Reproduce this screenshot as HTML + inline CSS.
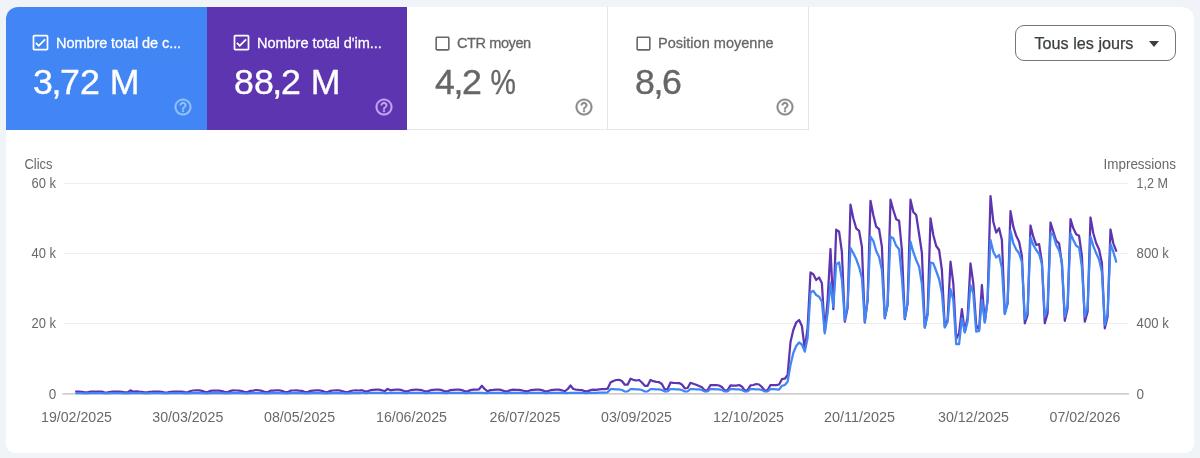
<!DOCTYPE html>
<html lang="fr"><head><meta charset="utf-8"><title>Performances</title>
<style>
html,body{margin:0;padding:0}
body{width:1200px;height:458px;overflow:hidden;background:#f0f3f8;font-family:"Liberation Sans",Arial,sans-serif;position:relative}
.card{position:absolute;left:6px;top:7px;width:1188px;height:446px;background:#fff;border-radius:12px 12px 9px 9px;overflow:hidden}
.tile{position:absolute;top:0;height:123px;box-sizing:border-box}
.t1{left:0;width:201px;background:#4285f4;color:#fff}
.t2{left:201px;width:200px;background:#5e35b1;color:#fff}
.t3{left:401px;width:201px;background:#fff;color:#666;border-right:1px solid #e4e4e4;border-bottom:1px solid #e8e8e8}
.t4{left:602px;width:201px;background:#fff;color:#666;border-right:1px solid #e4e4e4;border-bottom:1px solid #e8e8e8}
.cb{position:absolute;left:24.300px;top:25.200px}
.lbl{position:absolute;left:49.500px;top:26.600px;font-size:15.4px;line-height:18px;white-space:nowrap;transform:scaleX(.945);transform-origin:0 0;-webkit-text-stroke:.3px currentColor}
.val{position:absolute;left:27px;top:55.400px;font-size:35.4px;line-height:40px;white-space:nowrap;transform:scaleX(1.01);transform-origin:0 0;-webkit-text-stroke:.35px currentColor}
.cm{margin:0 -1.4px}
.help{position:absolute;left:167px;top:89.500px}
.btn{position:absolute;left:1015px;top:25px;width:159px;height:34px;border:1px solid #747775;border-radius:9px;background:#fff}
.btn span{position:absolute;left:18.500px;top:7.500px;font-size:16.2px;line-height:19px;color:#3c4043;white-space:nowrap;-webkit-text-stroke:.25px #3c4043}
.btn i{position:absolute;left:133px;top:14.500px;width:0;height:0;border-left:5.5px solid transparent;border-right:5.5px solid transparent;border-top:6px solid #3c4043}
span.pc{display:inline-block;transform:scaleX(.8);transform-origin:0 50%;margin-left:-1px}
svg.chart{position:absolute;left:0;top:0}
svg.chart text{font-family:"Liberation Sans",Arial,sans-serif;font-size:13.9px;fill:#696969}
</style></head><body>
<div class="card">
 <div class="tile t1"><svg class="cb" viewBox="0 0 24 24" width="21" height="21"><path fill="#fff" d="M19 3H5c-1.100 0-2 .9-2 2v14c0 1.100.9 2 2 2h14c1.100 0 2-.9 2-2V5c0-1.100-.9-2-2-2zm0 16H5V5h14v14zM17.990 9l-1.410-1.420-6.590 6.590-2.580-2.570-1.420 1.410 4 3.990z"/></svg><div class="lbl" style="letter-spacing:-0.1px">Nombre total de c...</div><div class="val">3<span class="cm">,</span>72 M</div><svg class="help" viewBox="0 0 24 24" width="20" height="20"><path fill="#94c3fc" stroke="#94c3fc" stroke-width=".45" d="M11 18h2v-2h-2v2zm1-16C6.48 2 2 6.48 2 12s4.48 10 10 10 10-4.48 10-10S17.52 2 12 2zm0 18c-4.41 0-8-3.590-8-8s3.590-8 8-8 8 3.590 8 8-3.590 8-8 8zm0-14c-2.210 0-4 1.790-4 4h2c0-1.100.9-2 2-2s2 .9 2 2c0 2-3 1.750-3 5h2c0-2.250 3-2.500 3-5 0-2.210-1.790-4-4-4z"/></svg></div>
 <div class="tile t2"><svg class="cb" viewBox="0 0 24 24" width="21" height="21"><path fill="#fff" d="M19 3H5c-1.100 0-2 .9-2 2v14c0 1.100.9 2 2 2h14c1.100 0 2-.9 2-2V5c0-1.100-.9-2-2-2zm0 16H5V5h14v14zM17.990 9l-1.410-1.420-6.590 6.590-2.580-2.570-1.420 1.410 4 3.990z"/></svg><div class="lbl" style="letter-spacing:-0.05px">Nombre total d'im...</div><div class="val">88<span class="cm">,</span>2 M</div><svg class="help" viewBox="0 0 24 24" width="20" height="20"><path fill="#c4a8f3" stroke="#c4a8f3" stroke-width=".45" d="M11 18h2v-2h-2v2zm1-16C6.48 2 2 6.48 2 12s4.48 10 10 10 10-4.48 10-10S17.52 2 12 2zm0 18c-4.41 0-8-3.590-8-8s3.590-8 8-8 8 3.590 8 8-3.590 8-8 8zm0-14c-2.210 0-4 1.790-4 4h2c0-1.100.9-2 2-2s2 .9 2 2c0 2-3 1.750-3 5h2c0-2.250 3-2.500 3-5 0-2.210-1.790-4-4-4z"/></svg></div>
 <div class="tile t3"><svg class="cb" viewBox="0 0 24 24" width="19" height="19" style="left:25.600px;top:26.900px"><path fill="#666" d="M19 5v14H5V5h14m0-2H5c-1.100 0-2 .9-2 2v14c0 1.100.9 2 2 2h14c1.100 0 2-.9 2-2V5c0-1.100-.9-2-2-2z"/></svg><div class="lbl" style="letter-spacing:-0.45px;left:50px">CTR moyen</div><div class="val" style="left:28px">4<span class="cm">,</span>2 <span class="pc">%</span></div><svg class="help" viewBox="0 0 24 24" width="20" height="20"><path fill="#8a8a8a" stroke="#8a8a8a" stroke-width=".45" d="M11 18h2v-2h-2v2zm1-16C6.48 2 2 6.48 2 12s4.48 10 10 10 10-4.48 10-10S17.52 2 12 2zm0 18c-4.41 0-8-3.590-8-8s3.590-8 8-8 8 3.590 8 8-3.590 8-8 8zm0-14c-2.210 0-4 1.790-4 4h2c0-1.100.9-2 2-2s2 .9 2 2c0 2-3 1.750-3 5h2c0-2.250 3-2.500 3-5 0-2.210-1.790-4-4-4z"/></svg></div>
 <div class="tile t4"><svg class="cb" viewBox="0 0 24 24" width="19" height="19" style="left:25.600px;top:26.900px"><path fill="#666" d="M19 5v14H5V5h14m0-2H5c-1.100 0-2 .9-2 2v14c0 1.100.9 2 2 2h14c1.100 0 2-.9 2-2V5c0-1.100-.9-2-2-2z"/></svg><div class="lbl">Position moyenne</div><div class="val">8<span class="cm">,</span>6</div><svg class="help" viewBox="0 0 24 24" width="20" height="20"><path fill="#8a8a8a" stroke="#8a8a8a" stroke-width=".45" d="M11 18h2v-2h-2v2zm1-16C6.48 2 2 6.48 2 12s4.48 10 10 10 10-4.48 10-10S17.52 2 12 2zm0 18c-4.41 0-8-3.590-8-8s3.590-8 8-8 8 3.590 8 8-3.590 8-8 8zm0-14c-2.210 0-4 1.790-4 4h2c0-1.100.9-2 2-2s2 .9 2 2c0 2-3 1.750-3 5h2c0-2.250 3-2.500 3-5 0-2.210-1.790-4-4-4z"/></svg></div>
</div>
<div class="btn"><span>Tous les jours</span><i></i></div>
<svg class="chart" width="1200" height="458" viewBox="0 0 1200 458">
 <g stroke="#efefef" stroke-width="1">
  <line x1="64" y1="183.5" x2="1128" y2="183.5"/><line x1="64" y1="253.5" x2="1128" y2="253.5"/><line x1="64" y1="323.5" x2="1128" y2="323.5"/>
 </g>
 <line x1="62.500" y1="393.800" x2="1129" y2="393.800" stroke="#bdbdbd" stroke-width="1.300"/>
 <text x="24.5" y="169.400" textLength="28" lengthAdjust="spacingAndGlyphs">Clics</text>
 <text x="1176" y="169.400" text-anchor="end" textLength="72.5" lengthAdjust="spacingAndGlyphs">Impressions</text>
 <text x="56" y="188.300" text-anchor="end" textLength="24.5" lengthAdjust="spacingAndGlyphs">60 k</text><text x="56" y="258.300" text-anchor="end" textLength="24.5" lengthAdjust="spacingAndGlyphs">40 k</text><text x="56" y="328.300" text-anchor="end" textLength="24.5" lengthAdjust="spacingAndGlyphs">20 k</text><text x="56.200" y="399" text-anchor="end" textLength="7.500" lengthAdjust="spacingAndGlyphs">0</text>
 <text x="1136.600" y="188.300" textLength="31.300" lengthAdjust="spacingAndGlyphs">1,2 M</text><text x="1136.600" y="258.300" textLength="32.100" lengthAdjust="spacingAndGlyphs">800 k</text><text x="1136.600" y="328.300" textLength="32.100" lengthAdjust="spacingAndGlyphs">400 k</text><text x="1136.600" y="399" textLength="7.500" lengthAdjust="spacingAndGlyphs">0</text>
 <text x="76.5" y="422.200" text-anchor="middle" textLength="71" lengthAdjust="spacingAndGlyphs">19/02/2025</text><text x="187.8" y="422.200" text-anchor="middle" textLength="71" lengthAdjust="spacingAndGlyphs">30/03/2025</text><text x="299.6" y="422.200" text-anchor="middle" textLength="71" lengthAdjust="spacingAndGlyphs">08/05/2025</text><text x="411.5" y="422.200" text-anchor="middle" textLength="71" lengthAdjust="spacingAndGlyphs">16/06/2025</text><text x="525" y="422.200" text-anchor="middle" textLength="71" lengthAdjust="spacingAndGlyphs">26/07/2025</text><text x="636.5" y="422.200" text-anchor="middle" textLength="71" lengthAdjust="spacingAndGlyphs">03/09/2025</text><text x="748.5" y="422.200" text-anchor="middle" textLength="71" lengthAdjust="spacingAndGlyphs">12/10/2025</text><text x="859.5" y="422.200" text-anchor="middle" textLength="71" lengthAdjust="spacingAndGlyphs">20/11/2025</text><text x="973.5" y="422.200" text-anchor="middle" textLength="71" lengthAdjust="spacingAndGlyphs">30/12/2025</text><text x="1085" y="422.200" text-anchor="middle" textLength="71" lengthAdjust="spacingAndGlyphs">07/02/2026</text>
 <polyline fill="none" stroke="#5e35b1" stroke-width="2.25" stroke-linejoin="round" stroke-linecap="round" points="76.2,391.5 79.1,391.6 81.9,391.8 84.8,392.4 87.6,392.4 90.5,391.6 93.3,391.5 96.2,391.7 99.1,391.5 101.9,391.7 104.8,392.5 107.6,392.4 110.5,391.9 113.3,391.6 116.2,391.6 119.1,391.5 121.9,391.8 124.8,392.4 127.6,392.4 130.5,390.3 133.3,391.7 136.2,391.4 139.1,391.7 141.9,391.8 144.8,392.3 147.6,392.2 150.5,391.9 153.3,391.6 156.2,391.6 159.1,391.7 161.9,391.9 164.8,392.5 167.6,392.3 170.5,391.9 173.3,391.6 176.2,391.7 179.1,391.7 181.9,391.7 184.8,392.2 187.6,392.3 190.5,391.0 193.3,390.5 196.2,390.4 199.1,390.4 201.9,390.9 204.8,391.9 207.6,392.0 210.5,390.9 213.3,390.5 216.2,390.5 219.1,390.6 221.9,391.0 224.8,392.1 227.6,392.2 230.5,390.9 233.3,390.4 236.2,390.5 239.1,390.6 241.9,391.0 244.8,392.0 247.6,392.1 250.5,390.8 253.3,390.6 256.2,390.0 259.1,390.4 261.9,390.8 264.8,392.1 267.6,392.2 270.5,390.7 273.3,390.6 276.2,390.4 279.1,390.4 281.9,390.8 284.8,392.0 287.6,392.2 290.5,390.7 293.3,390.5 296.2,390.3 299.1,390.6 301.9,390.8 304.8,392.1 307.6,392.2 310.5,390.9 313.3,390.6 316.2,390.3 319.1,390.4 321.9,390.9 324.8,391.8 327.6,392.0 330.5,390.8 333.3,390.5 336.2,390.3 339.1,390.4 341.9,391.0 344.8,391.9 347.6,392.2 350.5,391.0 353.3,390.5 356.2,390.4 359.1,390.5 361.9,390.2 364.8,391.3 367.6,391.4 370.5,390.2 373.3,389.9 376.2,389.7 379.1,389.7 381.9,390.3 384.8,391.2 387.6,388.9 390.5,390.3 393.3,389.8 396.2,389.7 399.1,389.6 401.9,390.2 404.8,391.3 407.6,391.3 410.5,390.2 413.3,389.8 416.2,389.5 419.1,389.8 421.9,390.2 424.8,391.3 427.6,391.4 430.5,390.2 433.3,389.8 436.2,389.5 439.1,389.6 441.9,390.2 444.8,391.4 447.6,391.3 450.5,390.1 453.3,389.8 456.2,389.6 459.1,389.7 461.9,390.1 464.8,391.3 467.6,391.4 470.5,390.1 473.3,389.7 476.2,389.7 479.1,389.3 481.9,385.8 484.8,389.2 487.6,391.3 490.5,390.1 493.3,389.9 496.2,389.6 499.1,389.7 501.9,390.2 504.8,391.4 507.6,391.3 510.5,390.1 513.3,389.7 516.2,389.8 519.1,389.8 521.9,390.3 524.8,391.2 527.6,391.3 530.5,390.2 533.3,389.9 536.2,389.7 539.1,389.7 541.9,390.1 544.8,391.3 547.6,391.3 550.5,390.2 553.3,389.9 556.2,389.6 559.1,389.7 561.9,390.3 564.8,391.3 567.6,389.2 570.5,385.5 573.3,389.0 576.2,389.6 579.1,389.9 581.9,390.1 584.8,391.2 587.6,391.4 590.5,390.1 593.3,389.7 596.2,389.8 599.1,389.3 601.9,389.2 604.8,389.2 607.6,388.7 610.5,382.5 613.3,381.0 616.2,380.0 619.1,379.8 621.9,381.0 624.8,384.7 627.6,384.7 630.5,378.7 633.3,379.8 636.2,380.5 639.1,380.0 641.9,382.5 644.8,385.8 647.6,385.8 650.5,380.0 653.3,381.2 656.2,381.8 659.1,382.2 661.9,384.0 664.8,389.5 667.6,389.2 670.5,382.5 673.3,382.8 676.2,383.0 679.1,383.0 681.9,384.5 684.8,388.3 687.6,388.0 690.5,382.8 693.3,383.8 696.2,384.8 699.1,386.0 701.9,387.3 704.8,390.5 707.6,390.0 710.5,385.0 713.3,385.0 716.2,385.0 719.1,385.5 721.9,387.0 724.8,390.6 727.6,390.0 730.5,385.3 733.3,385.6 736.2,385.7 739.1,385.0 741.9,386.5 744.8,390.6 747.6,390.0 750.5,385.3 753.3,385.0 756.2,384.0 759.1,384.5 761.9,387.0 764.8,390.8 767.6,390.0 770.5,385.0 773.3,385.2 776.2,385.2 779.1,384.5 781.9,379.2 784.8,378.7 787.6,375.0 790.5,342.0 793.3,330.0 796.2,322.5 799.1,320.0 801.9,326.0 804.8,349.0 807.6,328.0 810.5,272.5 813.3,274.2 816.2,280.0 819.1,277.5 821.9,283.3 824.8,332.0 827.6,300.0 830.5,249.0 833.3,309.2 836.2,229.7 839.1,231.7 841.9,252.0 844.8,321.7 847.6,308.0 850.5,204.7 853.3,218.3 856.2,228.3 859.1,230.8 861.9,246.7 864.8,322.5 867.6,300.0 870.5,200.8 873.3,215.0 876.2,226.7 879.1,229.2 881.9,246.7 884.8,318.3 887.6,305.0 890.5,199.7 893.3,210.0 896.2,219.2 899.1,220.8 901.9,250.0 904.8,319.2 907.6,303.3 910.5,199.7 913.3,212.0 916.2,215.0 919.1,234.0 921.9,253.0 924.8,327.5 927.6,313.0 930.5,218.3 933.3,235.0 936.2,246.0 939.1,250.0 941.9,270.0 944.8,327.0 947.6,320.0 950.5,261.7 953.3,283.3 956.2,339.0 959.1,333.0 961.9,309.2 964.8,331.7 967.6,317.0 970.5,263.3 973.3,283.3 976.2,325.0 979.1,330.0 981.9,285.0 984.8,322.0 987.6,300.0 990.5,196.2 993.3,221.7 996.2,232.5 999.1,228.3 1001.9,240.0 1004.8,313.3 1007.6,303.3 1010.5,211.2 1013.3,226.7 1016.2,235.8 1019.1,241.7 1021.9,256.0 1024.8,323.3 1027.6,315.0 1030.5,225.5 1033.3,236.7 1036.2,245.0 1039.1,244.2 1041.9,262.0 1044.8,323.3 1047.6,313.3 1050.5,222.5 1053.3,231.7 1056.2,240.8 1059.1,243.3 1061.9,264.0 1064.8,320.8 1067.6,308.3 1070.5,219.2 1073.3,228.3 1076.2,234.2 1079.1,235.8 1081.9,256.0 1084.8,321.7 1087.6,311.7 1090.5,217.5 1093.3,233.3 1096.2,243.3 1099.1,249.5 1101.9,263.0 1104.8,328.3 1107.6,316.7 1110.5,229.5 1113.3,243.3 1116.2,250.8"/>
 <polyline fill="none" stroke="#4285f4" stroke-width="2.25" stroke-linejoin="round" stroke-linecap="round" points="76.2,393.2 79.1,393.2 81.9,393.2 84.8,393.4 87.6,393.4 90.5,393.2 93.3,393.2 96.2,393.2 99.1,393.2 101.9,393.2 104.8,393.4 107.6,393.4 110.5,393.2 113.3,393.2 116.2,393.2 119.1,393.2 121.9,393.2 124.8,393.4 127.6,393.4 130.5,393.2 133.3,393.2 136.2,393.2 139.1,393.2 141.9,393.2 144.8,393.4 147.6,393.4 150.5,393.2 153.3,393.2 156.2,393.2 159.1,393.2 161.9,393.2 164.8,393.4 167.6,393.4 170.5,393.2 173.3,393.2 176.2,393.2 179.1,393.2 181.9,393.2 184.8,393.4 187.6,393.4 190.5,393.2 193.3,393.2 196.2,393.2 199.1,393.2 201.9,393.2 204.8,393.4 207.6,393.4 210.5,393.2 213.3,393.2 216.2,393.2 219.1,393.2 221.9,393.2 224.8,393.4 227.6,393.4 230.5,393.2 233.3,393.2 236.2,393.2 239.1,393.2 241.9,393.2 244.8,393.4 247.6,393.4 250.5,393.2 253.3,393.2 256.2,393.2 259.1,393.2 261.9,393.2 264.8,393.4 267.6,393.4 270.5,393.2 273.3,393.2 276.2,393.2 279.1,393.2 281.9,393.2 284.8,393.4 287.6,393.4 290.5,393.2 293.3,393.2 296.2,393.2 299.1,393.2 301.9,393.2 304.8,393.4 307.6,393.4 310.5,393.2 313.3,393.2 316.2,393.2 319.1,393.2 321.9,393.2 324.8,393.4 327.6,393.4 330.5,393.2 333.3,393.2 336.2,393.2 339.1,393.2 341.9,393.2 344.8,393.4 347.6,393.4 350.5,393.2 353.3,393.2 356.2,393.2 359.1,393.2 361.9,392.8 364.8,393.0 367.6,393.0 370.5,392.8 373.3,392.8 376.2,392.8 379.1,392.8 381.9,392.8 384.8,393.0 387.6,393.0 390.5,392.8 393.3,392.8 396.2,392.8 399.1,392.8 401.9,392.8 404.8,393.0 407.6,393.0 410.5,392.8 413.3,392.8 416.2,392.8 419.1,392.8 421.9,392.8 424.8,393.0 427.6,393.0 430.5,392.8 433.3,392.8 436.2,392.8 439.1,392.8 441.9,392.8 444.8,393.0 447.6,393.0 450.5,392.8 453.3,392.8 456.2,392.8 459.1,392.8 461.9,392.8 464.8,393.0 467.6,393.0 470.5,392.8 473.3,392.8 476.2,392.8 479.1,392.8 481.9,392.8 484.8,393.0 487.6,393.0 490.5,392.8 493.3,392.8 496.2,392.8 499.1,392.8 501.9,392.8 504.8,393.0 507.6,393.0 510.5,392.8 513.3,392.8 516.2,392.8 519.1,392.8 521.9,392.8 524.8,393.0 527.6,393.0 530.5,392.8 533.3,392.8 536.2,392.8 539.1,392.8 541.9,392.8 544.8,393.0 547.6,393.0 550.5,392.8 553.3,392.8 556.2,392.8 559.1,392.8 561.9,392.8 564.8,393.0 567.6,393.0 570.5,392.8 573.3,392.8 576.2,392.8 579.1,392.8 581.9,392.8 584.8,393.0 587.6,393.0 590.5,392.8 593.3,392.8 596.2,392.8 599.1,392.7 601.9,392.7 604.8,392.7 607.6,392.3 610.5,389.2 613.3,389.2 616.2,389.3 619.1,389.4 621.9,390.0 624.8,391.5 627.6,391.3 630.5,389.2 633.3,389.2 636.2,389.3 639.1,389.4 641.9,390.0 644.8,391.5 647.6,391.3 650.5,389.2 653.3,389.2 656.2,389.3 659.1,389.4 661.9,390.0 664.8,391.5 667.6,391.3 670.5,389.2 673.3,389.2 676.2,389.3 679.1,389.4 681.9,390.0 684.8,391.5 687.6,391.3 690.5,389.2 693.3,389.2 696.2,389.3 699.1,389.4 701.9,390.0 704.8,391.5 707.6,391.3 710.5,389.2 713.3,389.2 716.2,389.3 719.1,389.4 721.9,390.0 724.8,391.5 727.6,391.3 730.5,389.2 733.3,389.2 736.2,389.3 739.1,389.4 741.9,390.0 744.8,391.5 747.6,391.3 750.5,389.2 753.3,389.2 756.2,389.3 759.1,389.4 761.9,390.0 764.8,391.5 767.6,391.3 770.5,389.2 773.3,389.2 776.2,389.3 779.1,389.7 781.9,385.8 784.8,385.0 787.6,381.7 790.5,365.0 793.3,353.0 796.2,346.0 799.1,342.5 801.9,344.5 804.8,351.7 807.6,338.0 810.5,292.5 813.3,290.8 816.2,295.0 819.1,296.7 821.9,301.7 824.8,333.3 827.6,313.3 830.5,283.0 833.3,306.7 836.2,264.2 839.1,262.5 841.9,280.0 844.8,320.0 847.6,305.0 850.5,248.0 853.3,253.0 856.2,259.0 859.1,267.0 861.9,278.0 864.8,321.7 867.6,300.0 870.5,236.7 873.3,240.8 876.2,251.0 879.1,257.0 881.9,270.0 884.8,317.5 887.6,305.0 890.5,236.7 893.3,238.3 896.2,245.8 899.1,249.2 901.9,278.0 904.8,318.3 907.6,303.3 910.5,241.7 913.3,252.0 916.2,260.0 919.1,266.7 921.9,284.0 924.8,327.5 927.6,315.0 930.5,262.5 933.3,263.3 936.2,271.0 939.1,279.0 941.9,293.0 944.8,327.5 947.6,321.7 950.5,289.2 953.3,300.0 956.2,344.2 959.1,344.2 961.9,318.3 964.8,332.5 967.6,321.7 970.5,285.0 973.3,293.3 976.2,331.7 979.1,331.0 981.9,300.0 984.8,322.5 987.6,300.0 990.5,240.0 993.3,251.7 996.2,257.5 999.1,255.0 1001.9,268.0 1004.8,314.2 1007.6,303.3 1010.5,230.8 1013.3,243.3 1016.2,249.5 1019.1,253.3 1021.9,262.0 1024.8,319.0 1027.6,311.7 1030.5,237.5 1033.3,245.0 1036.2,250.0 1039.1,254.0 1041.9,264.0 1044.8,316.7 1047.6,306.7 1050.5,233.3 1053.3,235.0 1056.2,245.0 1059.1,250.5 1061.9,262.0 1064.8,316.7 1067.6,305.0 1070.5,233.3 1073.3,240.0 1076.2,245.8 1079.1,247.5 1081.9,267.0 1084.8,316.7 1087.6,306.7 1090.5,236.7 1093.3,245.8 1096.2,253.3 1099.1,259.5 1101.9,272.0 1104.8,325.0 1107.6,313.3 1110.5,244.2 1113.3,251.7 1116.2,261.7"/>
</svg>
</body></html>
